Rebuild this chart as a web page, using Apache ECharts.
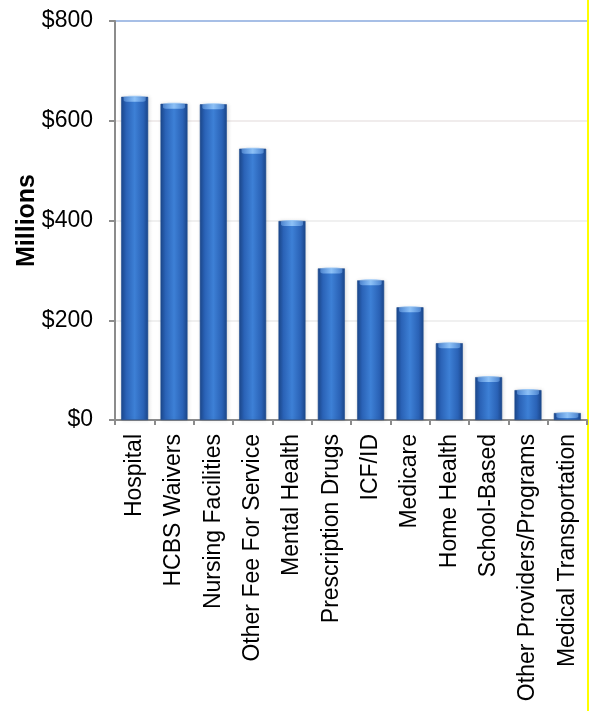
<!DOCTYPE html>
<html>
<head>
<meta charset="utf-8">
<script src="https://cdn.jsdelivr.net/npm/echarts@6/dist/echarts.min.js"></script>
<style>
  html, body { margin: 0; padding: 0; background: #fff; }
  #chart { width: 592px; height: 711px; }
</style>
</head>
<body>
<div id="chart"></div>
<script>
// Spending by service category, in millions of dollars
const categories = [
  'Hospital', 'HCBS Waivers', 'Nursing Facilities', 'Other Fee For Service',
  'Mental Health', 'Prescription Drugs', 'ICF/ID', 'Medicare', 'Home Health',
  'School-Based', 'Other Providers/Programs', 'Medical Transportation'
];
const spending = [648, 634, 633, 544, 399, 304, 280, 226, 154, 86, 60, 14];
const yTicks = [0, 200, 400, 600, 800];

const chart = echarts.init(document.getElementById('chart'), null, { renderer: 'canvas' });

const FONT = 'Liberation Sans, Arial, sans-serif';

const barFill = new echarts.graphic.LinearGradient(0, 0, 1, 0, [
  { offset: 0, color: '#1b468a' },
  { offset: 0.18, color: '#2a62b6' },
  { offset: 0.5, color: '#3d80d6' },
  { offset: 0.82, color: '#2a62b6' },
  { offset: 1, color: '#1b468a' }
]);

chart.setOption({
  animation: false,
  backgroundColor: '#ffffff',
  grid: { left: 115, right: 5, top: 21, bottom: 291, containLabel: false },
  xAxis: {
    type: 'category',
    data: categories,
    axisLine: { show: true, lineStyle: { color: '#8c8c8c', width: 2 } },
    axisTick: { show: true, length: 5, lineStyle: { color: '#8c8c8c', width: 2 } },
    axisLabel: {
      rotate: 90,
      margin: 14,
      color: '#000',
      fontFamily: FONT,
      fontSize: 23,
      interval: 0
    },
    splitLine: { show: false }
  },
  yAxis: {
    type: 'value',
    min: yTicks[0],
    max: yTicks[yTicks.length - 1],
    interval: 200,
    name: 'Millions',
    nameLocation: 'middle',
    nameGap: 75,
    nameMoveOverlap: false,
    nameTextStyle: {
      color: '#000',
      fontFamily: FONT,
      fontSize: 25,
      fontWeight: 'bold'
    },
    axisLine: { show: true, lineStyle: { color: '#8c8c8c', width: 2 } },
    axisTick: { show: true, length: 6, lineStyle: { color: '#8c8c8c', width: 2 } },
    axisLabel: {
      margin: 22,
      color: '#000',
      fontFamily: FONT,
      fontSize: 23,
      formatter: v => '$' + v
    },
    splitLine: {
      show: true,
      lineStyle: { color: ['#f2f2f2', '#f0f0f0', '#f0f0f0', '#f0ecec', '#a7bfe6'], width: 2 }
    }
  },
  series: [{
    type: 'bar',
    data: spending,
    barWidth: 27,
    itemStyle: {
      color: barFill,
      borderColor: '#1f4c8e',
      borderWidth: 0.6,
      shadowColor: 'rgba(0,0,0,0.12)',
      shadowBlur: 4,
      shadowOffsetX: 1
    }
  }, {
    // light cap on top of each bar
    type: 'pictorialBar',
    data: spending,
    symbol: 'roundRect',
    symbolSize: [22, 6],
    symbolPosition: 'end',
    symbolOffset: [0, -1],
    z: 3,
    itemStyle: {
      color: new echarts.graphic.LinearGradient(0, 0, 1, 0, [
        { offset: 0, color: 'rgba(120,175,240,0.5)' },
        { offset: 0.5, color: 'rgba(150,200,250,0.9)' },
        { offset: 1, color: 'rgba(120,175,240,0.5)' }
      ])
    },
    silent: true
  }],
  graphic: [{
    type: 'rect',
    shape: { x: 587, y: 0, width: 2, height: 711 },
    style: { fill: '#ffff00' },
    silent: true
  }]
});
</script>
</body>
</html>
